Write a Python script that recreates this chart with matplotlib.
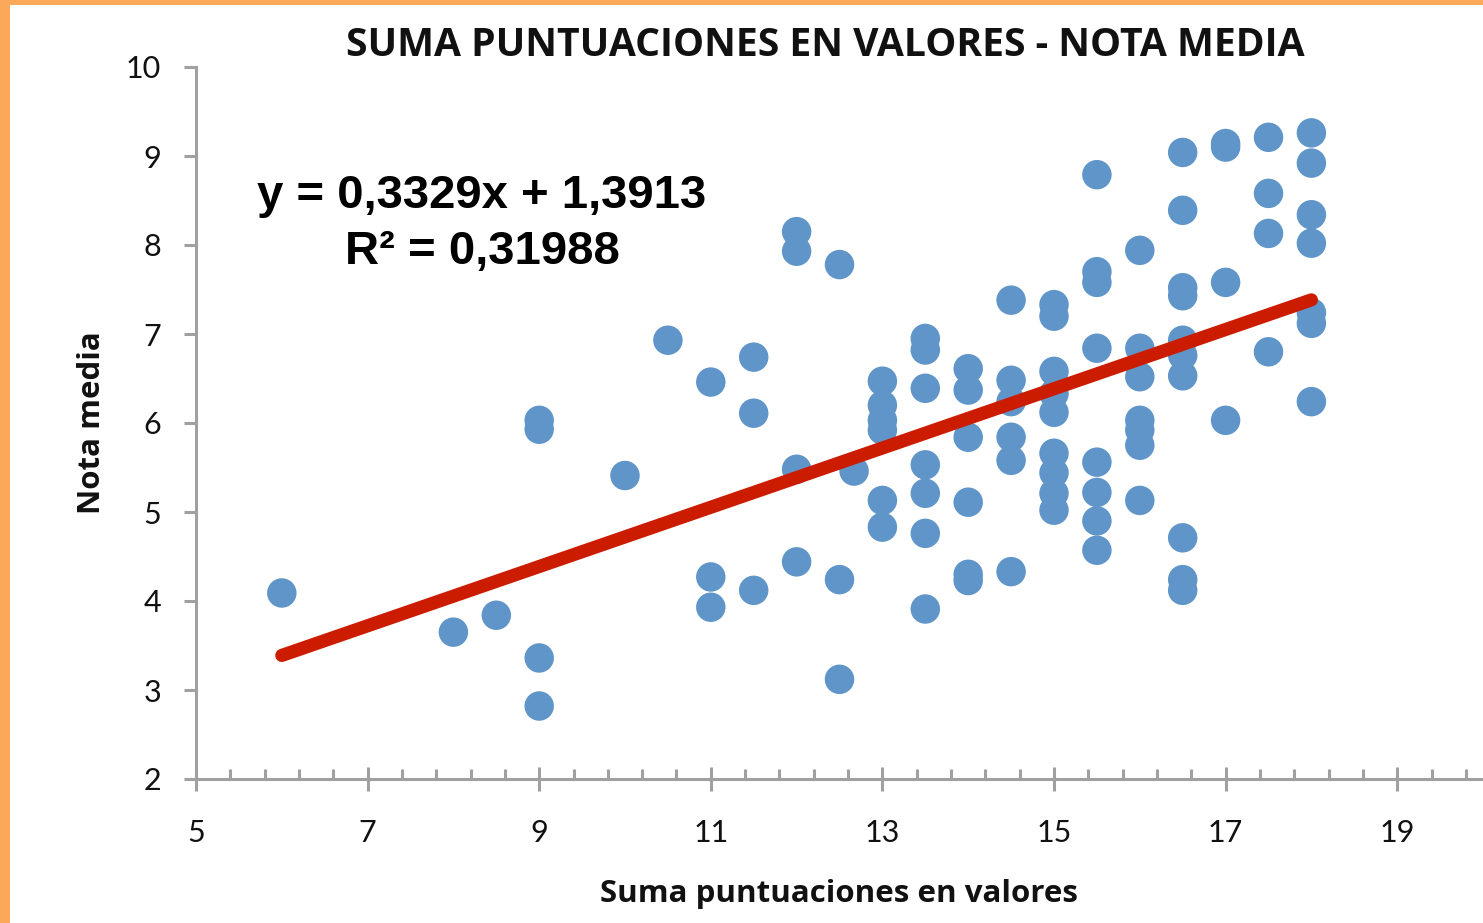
import matplotlib
matplotlib.use("Agg")
import matplotlib.pyplot as plt
import numpy as np
from matplotlib.patches import Rectangle

# ---- data ----
x6 = [6] * 1;      y6 = [4.09]
x8 = [8] * 1;      y8 = [3.65]
x85 = [8.5] * 1;   y85 = [3.84]
x9 = [9] * 4;      y9 = [6.03, 5.93, 3.36, 2.82]
x10 = [10] * 1;    y10 = [5.41]
x105 = [10.5] * 1; y105 = [6.93]
x11 = [11] * 3;    y11 = [6.46, 4.27, 3.93]
x115 = [11.5] * 3; y115 = [6.74, 6.11, 4.12]
x12 = [12] * 4;    y12 = [8.15, 7.93, 5.48, 4.44]
x125 = [12.5] * 3; y125 = [7.78, 4.24, 3.12]
x127 = [12.67];    y127 = [5.46]
x13 = [13] * 6;    y13 = [6.47, 6.2, 6.03, 5.92, 5.13, 4.83]
x135 = [13.5] * 7; y135 = [6.95, 6.82, 6.39, 5.53, 5.21, 4.76, 3.91]
x14 = [14] * 6;    y14 = [6.61, 6.37, 5.84, 5.11, 4.3, 4.23]
x145 = [14.5] * 6; y145 = [7.38, 6.48, 6.24, 5.84, 5.58, 4.33]
x15 = [15] * 9;    y15 = [7.33, 7.2, 6.58, 6.33, 6.12, 5.66, 5.44, 5.21, 5.02]
x155 = [15.5] * 8; y155 = [8.79, 7.7, 7.58, 6.84, 5.56, 5.22, 4.9, 4.57]
x16 = [16] * 7;    y16 = [7.94, 6.84, 6.52, 6.03, 5.92, 5.75, 5.13]
x165 = [16.5] * 10; y165 = [9.04, 8.39, 7.52, 7.43, 6.93, 6.76, 6.53, 4.71, 4.24, 4.12]
x17 = [17] * 4;    y17 = [9.14, 9.1, 7.58, 6.03]
x175 = [17.5] * 4; y175 = [9.21, 8.58, 8.13, 6.8]
x18 = [18] * 7;    y18 = [9.26, 8.92, 8.34, 8.02, 7.24, 7.12, 6.24]

x_all = (x6 + x8 + x85 + x9 + x10 + x105 + x11 + x115 + x12 + x125 + x127 + x13 +
         x135 + x14 + x145 + x15 + x155 + x16 + x165 + x17 + x175 + x18)
y_all = (y6 + y8 + y85 + y9 + y10 + y105 + y11 + y115 + y12 + y125 + y127 + y13 +
         y135 + y14 + y145 + y15 + y155 + y16 + y165 + y17 + y175 + y18)

slope = 0.3329
intercept = 1.3913
trend_x = [6, 18]

x_ticks = [5, 7, 9, 11, 13, 15, 17, 19]
y_ticks = [2, 3, 4, 5, 6, 7, 8, 9, 10]

title = "SUMA PUNTUACIONES EN VALORES - NOTA MEDIA"
xlabel = "Suma puntuaciones en valores"
ylabel = "Nota media"
eq_text = "y = 0,3329x + 1,3913\nR² = 0,31988"

# ---- figure ----
W, H = 1483, 923
fig = plt.figure(figsize=(W / 100, H / 100), dpi=100)
fig.patch.set_facecolor("white")

orange = "#fba858"
fig.patches.append(Rectangle((0, 0), 10 / W, 1, transform=fig.transFigure,
                             facecolor=orange, edgecolor="none", zorder=0))
fig.patches.append(Rectangle((0, 1 - 5 / H), 1, 5 / H, transform=fig.transFigure,
                             facecolor=orange, edgecolor="none", zorder=0))

ax = fig.add_axes([196 / W, 1 - 779 / H, (1483 - 196) / W, (779 - 67) / H])
ax.set_xlim(5, 20)
ax.set_ylim(2, 10)
ax.patch.set_alpha(0)

blue = "#5f95c8"
ax.scatter(x_all, y_all, s=450, color=blue, edgecolors="none", zorder=3,
           clip_on=False)

tx = np.array(trend_x, dtype=float)
ax.plot(tx, slope * tx + intercept, color="#cc1c00", lw=9.5,
        solid_capstyle="round", zorder=4)

gray = "#a0a0a0"
for s in ["top", "right"]:
    ax.spines[s].set_visible(False)
for s in ["left", "bottom"]:
    ax.spines[s].set_color(gray)
    ax.spines[s].set_linewidth(2.2)

ax.set_xticks(x_ticks)
ax.set_xticklabels([str(v) for v in x_ticks])
ax.set_xticks(np.arange(x_ticks[0], 20.001, 0.4), minor=True)
ax.set_yticks(y_ticks)
ax.set_yticklabels([str(v) for v in y_ticks])

tick_font = "Lato"
ax.tick_params(axis="x", which="major", direction="inout", length=17, width=2.2,
               color=gray, pad=20, labelsize=22)
ax.tick_params(axis="x", which="minor", direction="in", length=7.5, width=2.2,
               color=gray)
ax.tick_params(axis="y", which="major", direction="out", length=9, width=2.2,
               color=gray, pad=16, labelsize=22)
for lab in ax.get_xticklabels() + ax.get_yticklabels():
    lab.set_fontfamily(tick_font)
    lab.set_color("#111111")

ax.set_xlabel(xlabel, fontsize=22.5, fontweight="bold", fontfamily="Open Sans",
              labelpad=23, color="#111111")
ax.set_ylabel(ylabel, fontsize=22.5, fontweight="bold", fontfamily="Open Sans",
              labelpad=14, color="#111111")

fig.text(825 / W, 1 - 45 / H, title, ha="center", va="center", fontsize=28.2,
         fontweight="bold", fontfamily="Open Sans", color="#111111")

fig.text(482 / W, 1 - 224 / H, eq_text, ha="center", va="center", fontsize=34,
         fontweight="bold", fontfamily="Liberation Sans", color="black",
         linespacing=1.38)

fig.savefig("out.png", dpi=100, facecolor="white")
